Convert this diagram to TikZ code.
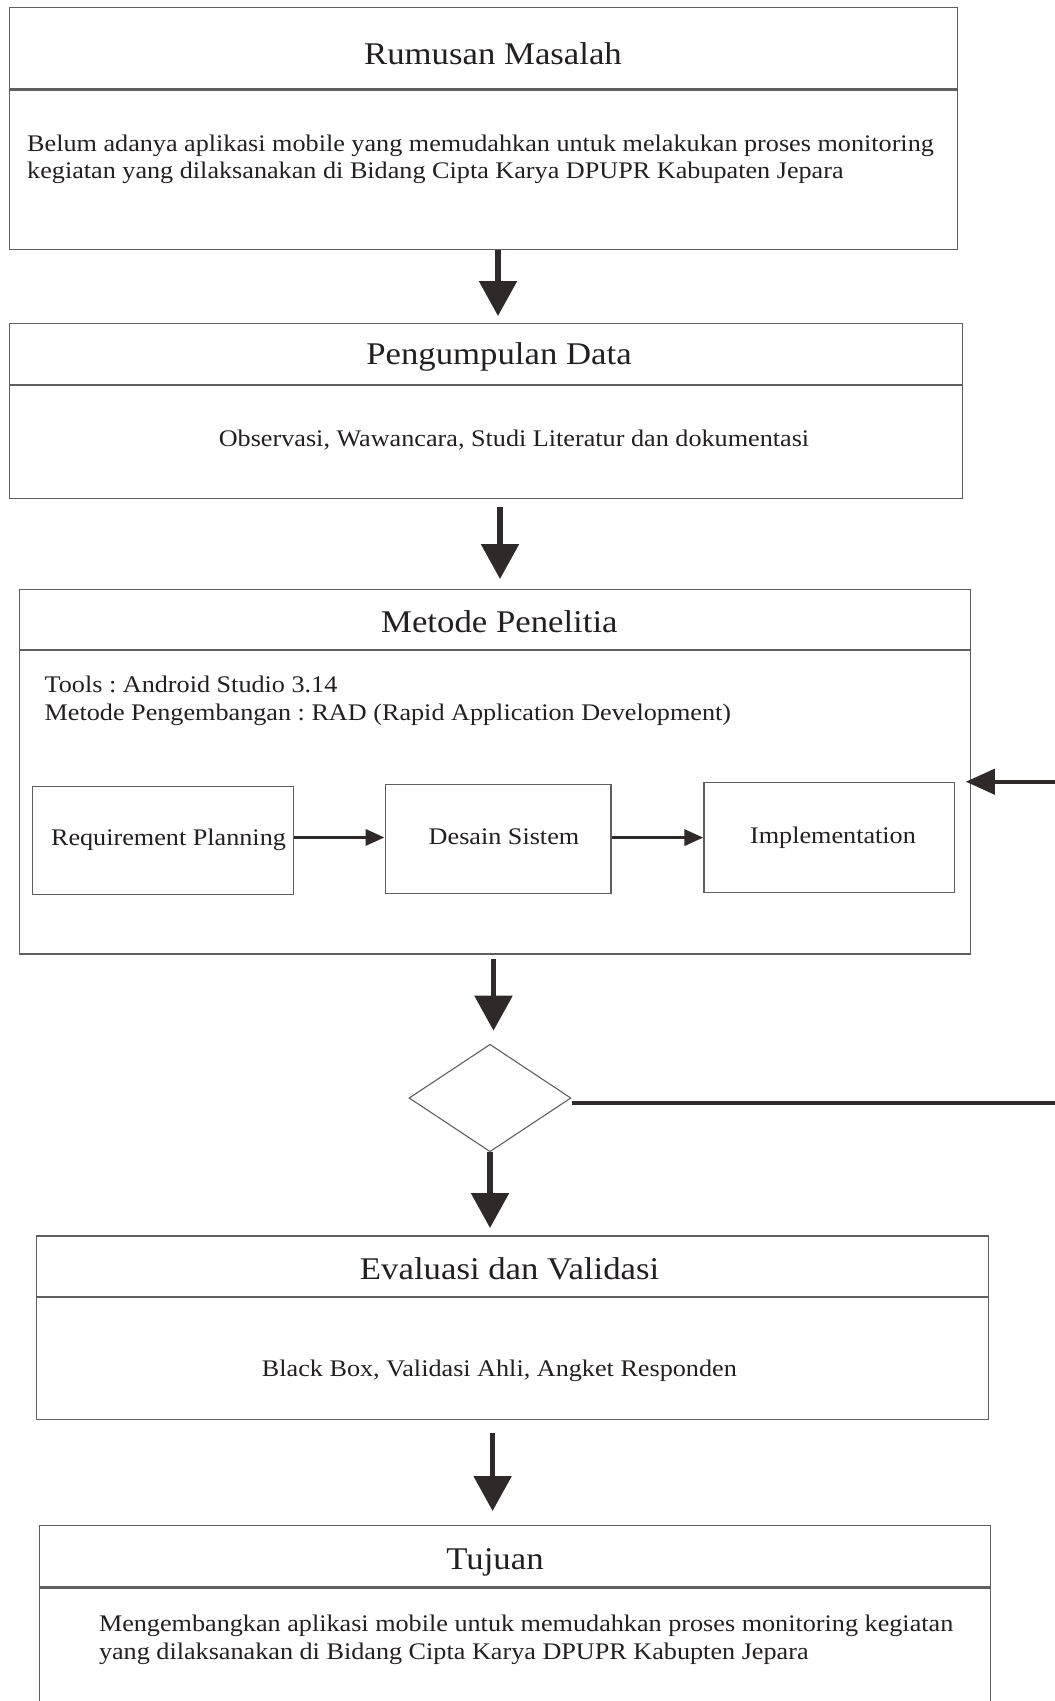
\documentclass[tikz,border=0pt]{standalone}
\usepackage{fontspec}
\setmainfont{Liberation Serif}[FakeStretch=1.1]
\usetikzlibrary{arrows.meta,shapes.geometric}
\definecolor{linegray}{RGB}{95,95,95}
\definecolor{arrowdark}{RGB}{47,42,41}
\definecolor{inkdark}{RGB}{35,31,32}
\frenchspacing

\begin{document}
\begin{tikzpicture}[x=1pt,y=-1pt,
  panel/.style={draw=linegray,line width=1.25pt,rectangle,inner sep=0pt,anchor=north west},
  stepbox/.style={draw=linegray,line width=1.2pt,rectangle,inner sep=0pt,anchor=north west},
  titletext/.style={font=\fontsize{31.6}{36}\selectfont,text=inkdark,inner sep=0pt,anchor=base},
  bodytext/.style={font=\fontsize{23.8}{27.5}\selectfont\frenchspacing,text=inkdark,inner sep=0pt,align=left},
  bigarrow/.style={draw=arrowdark,line width=5.5pt,-{Triangle[length=35pt,width=37pt]}},
  backarrow/.style={draw=arrowdark,line width=4pt,-{Triangle[length=29pt,width=25pt]}},
  smallarrow/.style={draw=arrowdark,line width=3.5pt,-{Triangle[length=19pt,width=16pt]}}
]
\useasboundingbox (0,0) rectangle (1055,1701);

% Rumusan Masalah
\node[panel,minimum width=948pt,minimum height=81.5pt] (h1) at (9,6.5) {};
\node[panel,minimum width=948pt,minimum height=159.5pt] (b1) at (h1.south west) {};
\node[titletext] (t1) at (493,64.3) {Rumusan Masalah};
% the base anchor of a two-line node sits on its last line
\node[bodytext,anchor=base west] (x1) at (27,178.6)
  {Belum adanya aplikasi mobile yang memudahkan untuk melakukan proses monitoring\\
   kegiatan yang dilaksanakan di Bidang Cipta Karya DPUPR Kabupaten Jepara};

% Pengumpulan Data
\node[panel,minimum width=952.5pt,minimum height=60.8pt] (h2) at (9,323) {};
\node[panel,minimum width=952.5pt,minimum height=112.9pt] (b2) at (h2.south west) {};
\node[titletext] (t2) at (499,364) {Pengumpulan Data};
\node[bodytext,anchor=base] (x2) at (514,446.7) {Observasi, Wawancara, Studi Literatur dan dokumentasi};

% Metode Penelitia
\node[panel,minimum width=951.4pt,minimum height=60.1pt] (h3) at (18.6,588.6) {};
\node[panel,minimum width=951.4pt,minimum height=303.5pt] (b3) at (h3.south west) {};
\node[titletext] (t3) at (499.4,632.7) {Metode Penelitia};
\node[bodytext,anchor=base west] (x3) at (44.5,720)
  {Tools : Android Studio 3.14\\
   Metode Pengembangan : RAD (Rapid Application Development)};

% RAD steps
\node[stepbox,minimum width=261.5pt,minimum height=108.3pt] (rp) at (31.5,785.7) {};
\node[stepbox,minimum width=225.8pt,minimum height=109pt] (ds) at (384.5,784) {};
\node[stepbox,minimum width=250.5pt,minimum height=109.5pt] (im) at (703.3,782) {};
\node[bodytext,anchor=base] (rpt) at (168.5,845) {Requirement Planning};
\node[bodytext,anchor=base] (dst) at (504,844.3) {Desain Sistem};
\node[bodytext,anchor=base] (imt) at (833,843.3) {Implementation};
\draw[smallarrow] ([yshift=3pt]rp.east) -- ([yshift=3pt]rp.east -| ds.west);
\draw[smallarrow] ([yshift=1.5pt]ds.east) -- ([yshift=1.5pt]ds.east -| im.west);

% decision
\node[diamond,draw=linegray,line width=1.1pt,minimum width=162pt,minimum height=107.5pt,inner sep=0pt] (dec) at (490,1098) {};

% Evaluasi dan Validasi
\node[panel,minimum width=951.8pt,minimum height=60.5pt] (h4) at (35.7,1235.3) {};
\node[panel,minimum width=951.8pt,minimum height=122pt] (b4) at (h4.south west) {};
\node[titletext] (t4) at (509.6,1279.3) {Evaluasi dan Validasi};
\node[bodytext,anchor=base] (x4) at (499.4,1376.7) {Black Box, Validasi Ahli, Angket Responden};

% Tujuan
\node[panel,minimum width=951.5pt,minimum height=61.3pt] (h5) at (38.5,1525) {};
\node[panel,minimum width=951.5pt,minimum height=125.7pt] (b5) at (h5.south west) {};
\node[titletext] (t5) at (495,1569.3) {Tujuan};
\node[bodytext,anchor=base west] (x5) at (98.8,1659.3)
  {Mengembangkan aplikasi mobile untuk memudahkan proses monitoring kegiatan\\
   yang dilaksanakan di Bidang Cipta Karya DPUPR Kabupten Jepara};

% main flow
\coordinate (c1) at (498,0);
\coordinate (c2) at (500,0);
\coordinate (c3) at (493.5,0);
\coordinate (c5) at (492.6,0);
\draw[bigarrow,shorten >=7pt] (b1.south -| c1) -- (h2.north -| c1);
\draw[bigarrow,shorten <=7.3pt,shorten >=9.6pt] (b2.south -| c2) -- (h3.north -| c2);
\draw[bigarrow,shorten <=3.8pt,shorten >=13pt] (b3.south -| c3) -- (dec.north -| c3);
\draw[bigarrow,shorten >=7.3pt] (dec.south) -- (h4.north -| dec.south);
\draw[bigarrow,shorten <=12.2pt,shorten >=14pt] (b4.south -| c5) -- (h5.north -| c5);

% loop back to the method
\coordinate (fb1) at (1062,1102.7);
\coordinate (fb2) at (1062,781.7);
\draw[backarrow,shorten >=-5.5pt] ([yshift=-4.7pt]dec.east) -- (fb1) -- (fb2) -- (fb2 -| h3.east);
\end{tikzpicture}
\end{document}
